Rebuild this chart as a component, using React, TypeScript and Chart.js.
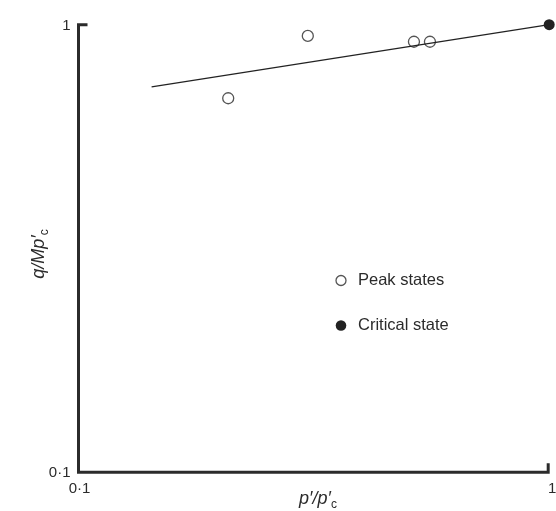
import React, { useEffect, useRef } from "react";
import { Chart, registerables } from "chart.js";

Chart.register(...registerables);

// Peak states (open circles)
const peakX = [0.208, 0.307, 0.516, 0.558];
const peakY = [0.685, 0.944, 0.916, 0.916];
// Critical state (filled circle)
const criticalX = [1];
const criticalY = [1];
// Fitted line
const lineX = [0.143, 1];
const lineY = [0.726, 1];
// Tick values and labels
const xTicks = [0.1, 1];
const xTickLabels = ["0·1", "1"];
const yTicks = [0.1, 1];
const yTickLabels = ["0·1", "1"];
const legendLabels = ["Peak states", "Critical state"];

const FONT = '"Liberation Sans", Arial, sans-serif';
const INK = "#2b2b2b";

const decorPlugin = {
  id: "decor",
  beforeDatasetsDraw(chart: any) {
    const { ctx, scales } = chart;
    const xs = scales.x;
    const ys = scales.y;
    const L = xs.getPixelForValue(0.1);
    const R = xs.getPixelForValue(1) - 1;
    const T = ys.getPixelForValue(1);
    const B = ys.getPixelForValue(0.1);
    ctx.save();
    ctx.strokeStyle = INK;
    ctx.lineWidth = 3;
    ctx.lineJoin = "miter";
    ctx.beginPath();
    ctx.moveTo(L + 9, T);
    ctx.lineTo(L, T);
    ctx.lineTo(L, B);
    ctx.lineTo(R, B);
    ctx.lineTo(R, B - 9);
    ctx.stroke();
    ctx.restore();
  },
  afterDraw(chart: any) {
    const { ctx, scales } = chart;
    const xs = scales.x;
    const ys = scales.y;
    ctx.save();
    ctx.fillStyle = INK;
    ctx.font = `15px ${FONT}`;
    // y tick labels
    ctx.textAlign = "right";
    ctx.textBaseline = "middle";
    yTicks.forEach((v, i) => {
      ctx.fillText(yTickLabels[i], xs.getPixelForValue(0.1) - 8, ys.getPixelForValue(v) + 1);
    });
    // x tick labels
    ctx.textAlign = "center";
    ctx.textBaseline = "middle";
    xTicks.forEach((v, i) => {
      const off = v === 1 ? 3 : 1;
      ctx.fillText(xTickLabels[i], xs.getPixelForValue(v) + off, ys.getPixelForValue(0.1) + 17);
    });

    const drawTitle = (main: string, sub: string) => {
      ctx.font = `italic 18px ${FONT}`;
      const w1 = ctx.measureText(main).width;
      ctx.font = `12px ${FONT}`;
      const w2 = ctx.measureText(sub).width;
      const total = w1 + w2;
      ctx.textAlign = "left";
      ctx.textBaseline = "alphabetic";
      ctx.font = `italic 18px ${FONT}`;
      ctx.fillText(main, -total / 2, 0);
      ctx.font = `12px ${FONT}`;
      ctx.fillText(sub, -total / 2 + w1, 4);
    };
    ctx.save();
    ctx.translate(318, 504);
    drawTitle("p′/p′", "c");
    ctx.restore();

    ctx.save();
    ctx.translate(44, 254);
    ctx.rotate(-Math.PI / 2);
    drawTitle("q/Mp′", "c");
    ctx.restore();

    // legend
    const lx = 341;
    const ly = [280.5, 325.5];
    ctx.lineWidth = 1.3;
    ctx.strokeStyle = "#555";
    ctx.beginPath();
    ctx.arc(lx, ly[0], 5, 0, Math.PI * 2);
    ctx.fillStyle = "#fff";
    ctx.fill();
    ctx.stroke();
    ctx.beginPath();
    ctx.arc(lx, ly[1], 5.3, 0, Math.PI * 2);
    ctx.fillStyle = "#222";
    ctx.fill();
    ctx.fillStyle = INK;
    ctx.font = `16.5px ${FONT}`;
    ctx.textAlign = "left";
    ctx.textBaseline = "middle";
    ctx.fillText(legendLabels[0], 358, ly[0]);
    ctx.fillText(legendLabels[1], 358, ly[1]);
    ctx.restore();
  },
};

export default function App() {
  const ref = useRef<HTMLCanvasElement>(null);
  useEffect(() => {
    if (!ref.current) return;
    const chart = new Chart(ref.current, {
      type: "scatter",
      data: {
        datasets: [
          {
            type: "line",
            label: "fit",
            data: lineX.map((x, i) => ({ x, y: lineY[i] })),
            borderColor: "#222",
            borderWidth: 1.2,
            pointRadius: 0,
            fill: false,
            clip: false,
          } as any,
          {
            label: legendLabels[0],
            data: peakX.map((x, i) => ({ x, y: peakY[i] })),
            pointRadius: 5.5,
            pointBackgroundColor: "#fff",
            pointBorderColor: "#555",
            pointBorderWidth: 1.3,
            clip: false,
          },
          {
            label: legendLabels[1],
            data: criticalX.map((x, i) => ({ x, y: criticalY[i] })),
            pointRadius: 5.5,
            pointBackgroundColor: "#222",
            pointBorderColor: "#222",
            pointBorderWidth: 0,
            clip: false,
          },
        ],
      },
      options: {
        responsive: false,
        animation: false,
        layout: { padding: { left: 78.5, top: 24.7, right: 6.5, bottom: 38.7 } },
        plugins: { legend: { display: false }, tooltip: { enabled: false } },
        scales: {
          x: { type: "logarithmic", min: 0.1, max: 1, display: false },
          y: { type: "logarithmic", min: 0.1, max: 1, display: false },
        },
      },
      plugins: [decorPlugin],
    });
    return () => chart.destroy();
  }, []);
  return (
    <div style={{ position: "absolute", left: 0, top: 0, width: 556, height: 511, background: "#fff" }}>
      <canvas ref={ref} width={556} height={511} />
    </div>
  );
}
